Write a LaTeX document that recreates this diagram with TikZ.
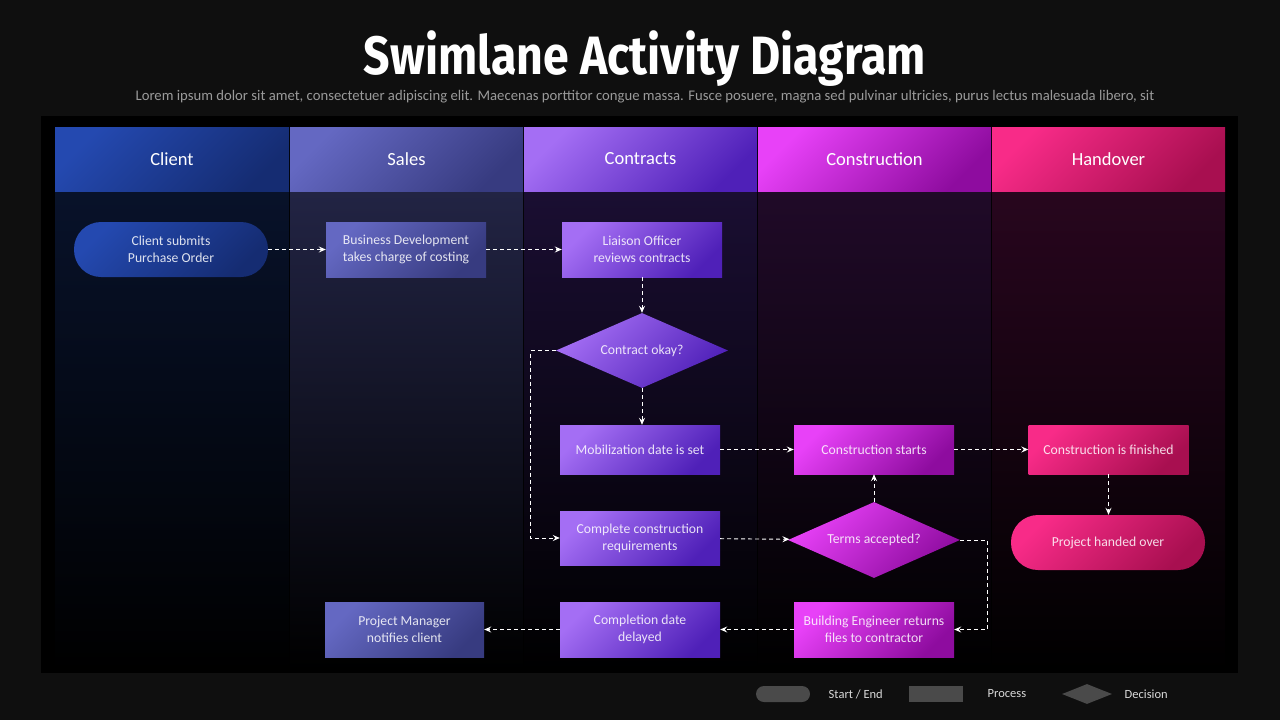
\documentclass[tikz,border=0pt]{standalone}
\usepackage{fontspec}
\usepackage{graphicx}
\setmainfont{Carlito}
\newfontfamily\titlefont{Fira Sans}
\usetikzlibrary{positioning, shapes.geometric, arrows.meta}

\definecolor{bgdark}{HTML}{0F0F0F}
\definecolor{subgray}{HTML}{9A9A9A}
\definecolor{legendgray}{HTML}{4A4A4A}
\definecolor{clientA}{HTML}{2449B0}
\definecolor{clientB}{HTML}{152C72}
\definecolor{salesA}{HTML}{6468C2}
\definecolor{salesB}{HTML}{373B80}
\definecolor{contrA}{HTML}{A46EF4}
\definecolor{contrB}{HTML}{4F20B8}
\definecolor{consA}{HTML}{E841F8}
\definecolor{consB}{HTML}{8E0C9F}
\definecolor{handA}{HTML}{F82B88}
\definecolor{handB}{HTML}{A80F50}
\definecolor{clientL}{HTML}{08122A}
\definecolor{salesL}{HTML}{222444}
\definecolor{contrL}{HTML}{1A0E32}
\definecolor{consL}{HTML}{200A28}
\definecolor{handL}{HTML}{28061E}

\tikzset{
  txt/.style={text=white, text opacity=.85, align=center,
    font=\fontsize{13.7}{17}\selectfont},
  tint/.style 2 args={top color=#1, bottom color=#2, shading angle=45},
  lanehead/.style={rectangle, minimum width=233pt, minimum height=64pt,
    text=white, font=\fontsize{18.5}{20}\selectfont},
  proc/.style={txt, rectangle, minimum width=160pt, minimum height=55pt, inner sep=2pt},
  term/.style={txt, rectangle, rounded corners=27pt, minimum width=194pt,
    minimum height=55pt},
  dec/.style={txt, diamond, aspect=2.3, minimum width=172pt, minimum height=75pt,
    inner sep=0pt},
  flow/.style={draw=white, line width=0.9pt, dash pattern=on 4pt off 3pt,
    -{Stealth[length=7pt, width=6pt, inset=2.5pt]}},
  legtext/.style={text=white!85!black, font=\fontsize{12.5}{14}\selectfont}
}

\begin{document}
\begin{tikzpicture}[x=1pt, y=-1pt]
  \fill[bgdark] (0,0) rectangle (1280,720);
  \useasboundingbox (0,0) rectangle (1280,720);
  \fill[black] (41,116) rectangle (1238,673);

  % title
  \node (title) at (645,59) {\titlefont\bfseries\fontsize{54}{60}\selectfont
    \color{white}\scalebox{0.86}[1]{Swimlane Activity Diagram}};
  \node (subtitle) [text=subgray, font=\fontsize{14.7}{16}\selectfont] at (645,97)
    {Lorem ipsum dolor sit amet, consectetuer adipiscing elit. Maecenas porttitor congue massa. Fusce posuere, magna sed pulvinar ultricies, purus lectus malesuada libero, sit};

  % lanes
  \shade[top color=clientL, bottom color=black] (55,191) rectangle (289,670);
  \shade[top color=salesL, bottom color=black] (290,191) rectangle (523,670);
  \shade[top color=contrL, bottom color=black] (524,191) rectangle (757,670);
  \shade[top color=consL, bottom color=black] (758,191) rectangle (991,670);
  \shade[top color=handL, bottom color=black] (992,191) rectangle (1225,670);

  \node (hclient) [lanehead, tint={clientA}{clientB}, minimum width=234pt] at (172,159) {Client};
  \node (hsales) [lanehead, tint={salesA}{salesB}] at (406.5,159) {Sales};
  \node (hcontr) [lanehead, tint={contrA}{contrB}] at (640.5,159) {Contracts};
  \node (hcons) [lanehead, tint={consA}{consB}] at (874.5,159) {Construction};
  \node (hhand) [lanehead, tint={handA}{handB}] at (1108.5,159) {Handover};

  % activities
  \node (submit) [term, tint={clientA}{clientB}] at (171,249.5) {Client submits\\Purchase Order};
  \node (costing) [proc, tint={salesA}{salesB}] at (406,249.5) {Business Development\\takes charge of costing};
  \node (liaison) [proc, tint={contrA}{contrB}] at (642,249.5) {Liaison Officer\\reviews contracts};
  \node (okay) [dec, tint={contrA}{contrB}] at (642,350.5) {Contract okay?};
  \node (mobil) [proc, tint={contrA}{contrB}, minimum height=49pt] at (640,449.5) {Mobilization date is set};
  \node (starts) [proc, tint={consA}{consB}, minimum height=49pt] at (874,449.5) {Construction starts};
  \node (finished) [proc, tint={handA}{handB}, minimum height=49pt] at (1108.5,449.5) {Construction is finished};
  \node (reqs) [proc, tint={contrA}{contrB}, minimum height=54pt] at (640,538) {Complete construction\\requirements};
  \node (terms) [dec, tint={consA}{consB}, minimum height=76pt] at (874,540) {Terms accepted?};
  \node (handed) [term, tint={handA}{handB}] at (1108,542.5) {Project handed over};
  \node (notify) [proc, tint={salesA}{salesB}, minimum width=159pt] at (404.5,629.5) {Project Manager\\notifies client};
  \node (delayed) [proc, tint={contrA}{contrB}] at (640,629.5) {Completion date\\delayed};
  \node (returns) [proc, tint={consA}{consB}] at (874,629.5) {Building Engineer returns\\files to contractor};

  % flows
  \draw[flow] (submit) -- (costing);
  \draw[flow] (costing) -- (liaison);
  \draw[flow] (liaison) -- (okay);
  \draw[flow] (okay) -- (okay |- mobil.north);
  \draw[flow] (okay.west) -- ++(-25,0) |- (reqs.west);
  \draw[flow] (mobil) -- (starts);
  \draw[flow] (starts) -- (finished);
  \draw[flow] (finished) -- (finished |- handed.north);
  \draw[flow] (reqs) -- (terms);
  \draw[flow] (terms) -- (starts);
  \draw[flow] (terms.east) -- ++(27,0) |- (returns.east);
  \draw[flow] (returns) -- (delayed);
  \draw[flow] (delayed) -- (notify);

  % legend
  \node (legterm) [fill=legendgray, rectangle, rounded corners=8pt, minimum width=54pt,
    minimum height=16pt, inner sep=0pt] at (783,694) {};
  \node (legterm text) [legtext, right=15pt of legterm] {Start / End};
  \node (legproc) [fill=legendgray, rectangle, minimum width=54pt, minimum height=16pt,
    inner sep=0pt] at (936,694) {};
  \node (legproc text) [legtext, right=21pt of legproc] {Process};
  \node (legdec) [fill=legendgray, diamond, aspect=2.5, minimum width=50pt,
    minimum height=20pt, inner sep=0pt] at (1087,694) {};
  \node (legdec text) [legtext, right=9pt of legdec] {Decision};
\end{tikzpicture}
\end{document}
